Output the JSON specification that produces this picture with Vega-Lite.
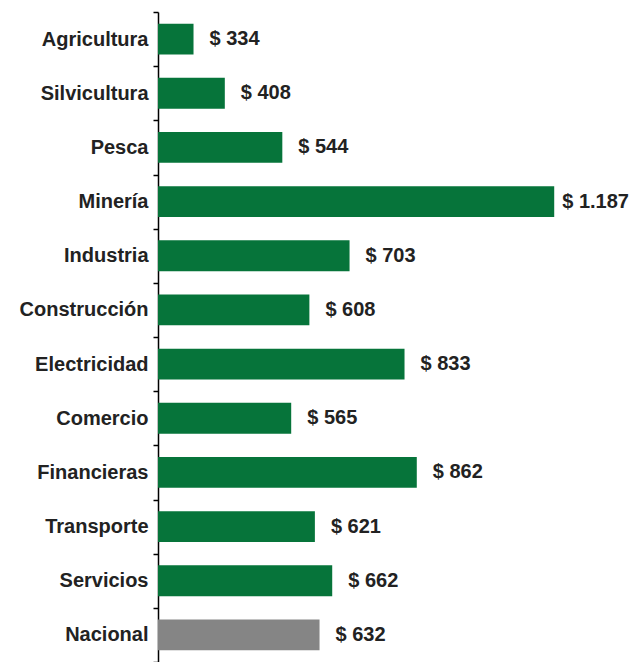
{
  "$schema": "https://vega.github.io/schema/vega-lite/v6.json",
  "width": 444,
  "height": 650,
  "autosize": {"type": "none"},
  "padding": {"left": 158, "top": 12, "right": 33, "bottom": 0},
  "background": "white",
  "config": {
    "view": {"stroke": null},
    "locale": {"number": {"decimal": ",", "thousands": ".", "grouping": [3], "currency": ["$ ", ""]}}
  },
  "data": {
    "values": [
      {"sector": "Agricultura", "valor": 334, "grupo": "sector"},
      {"sector": "Silvicultura", "valor": 408, "grupo": "sector"},
      {"sector": "Pesca", "valor": 544, "grupo": "sector"},
      {"sector": "Minería", "valor": 1187, "grupo": "sector"},
      {"sector": "Industria", "valor": 703, "grupo": "sector"},
      {"sector": "Construcción", "valor": 608, "grupo": "sector"},
      {"sector": "Electricidad", "valor": 833, "grupo": "sector"},
      {"sector": "Comercio", "valor": 565, "grupo": "sector"},
      {"sector": "Financieras", "valor": 862, "grupo": "sector"},
      {"sector": "Transporte", "valor": 621, "grupo": "sector"},
      {"sector": "Servicios", "valor": 662, "grupo": "sector"},
      {"sector": "Nacional", "valor": 632, "grupo": "nacional"}
    ]
  },
  "encoding": {
    "y": {
      "field": "sector", "type": "nominal", "sort": null,
      "scale": {"paddingInner": 0, "paddingOuter": 0},
      "axis": {
        "title": null, "ticks": true, "tickBand": "extent",
        "domainColor": "#000000", "domainWidth": 1.5,
        "tickColor": "#000000", "tickSize": 5, "tickWidth": 1.5, "tickOpacity": 1,
        "labelFont": "Liberation Sans", "labelFontWeight": "bold", "labelFontSize": 20,
        "labelColor": "#222222", "labelPadding": 5
      }
    },
    "x": {
      "field": "valor", "type": "quantitative",
      "scale": {"domain": [250, 1300], "zero": false, "clamp": false},
      "axis": null
    }
  },
  "layer": [
    {
      "mark": {"type": "bar", "height": {"band": 0.57}, "clip": true},
      "encoding": {
        "color": {
          "field": "grupo", "type": "nominal",
          "scale": {"domain": ["sector", "nacional"], "range": ["#06743a", "#858585"]},
          "legend": null
        }
      }
    },
    {
      "transform": [{"filter": "datum.valor < 1000"}],
      "mark": {"type": "text", "align": "left", "baseline": "middle", "dx": 16,
               "font": "Liberation Sans", "fontWeight": "bold", "fontSize": 20, "color": "#222222"},
      "encoding": {
        "text": {"field": "valor", "type": "quantitative", "format": "$,.0f"}
      }
    },
    {
      "transform": [{"filter": "datum.valor >= 1000"}],
      "mark": {"type": "text", "align": "left", "baseline": "middle", "dx": 8,
               "font": "Liberation Sans", "fontWeight": "bold", "fontSize": 20, "color": "#222222"},
      "encoding": {
        "text": {"field": "valor", "type": "quantitative", "format": "$,.0f"}
      }
    }
  ]
}
